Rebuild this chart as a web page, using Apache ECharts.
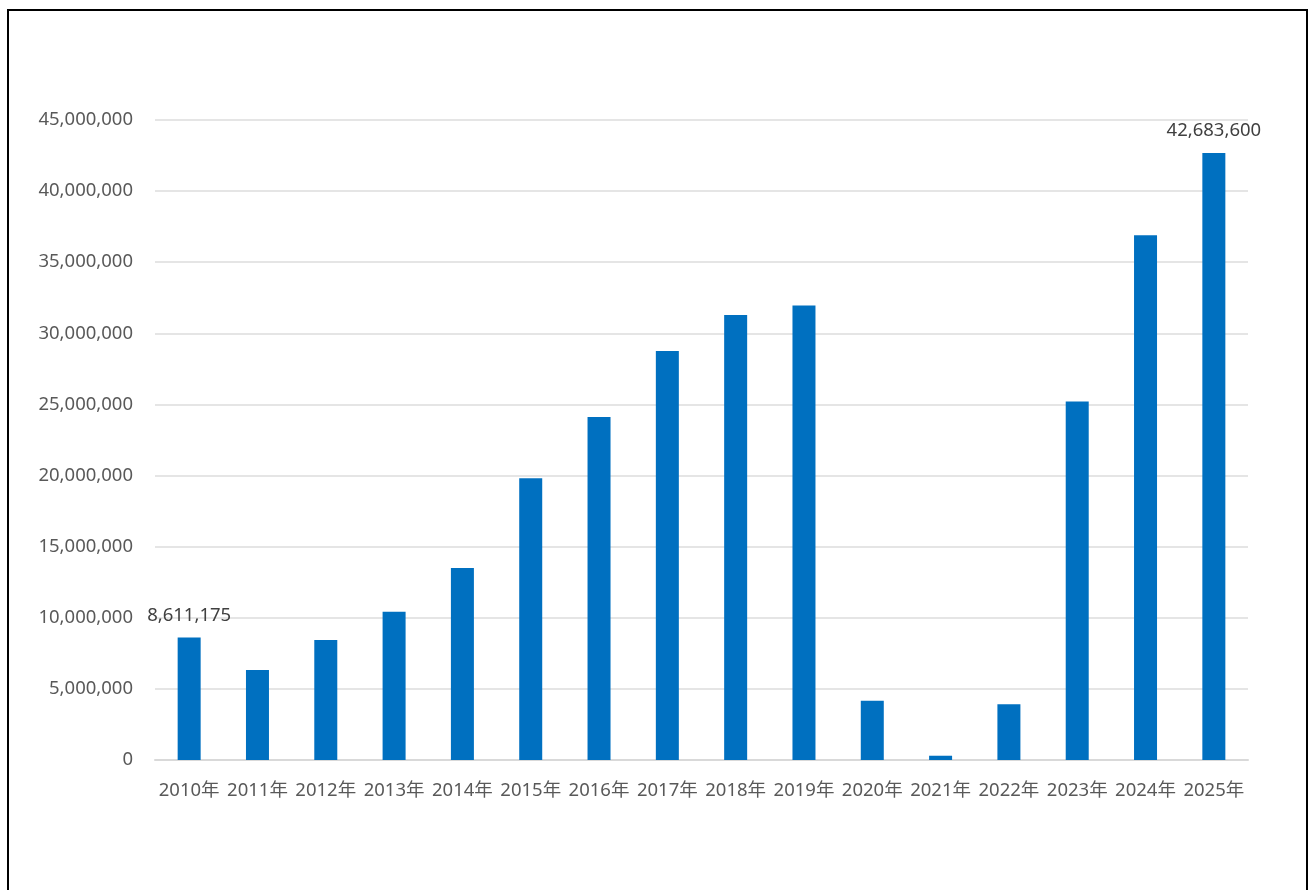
<!DOCTYPE html>
<html>
<head>
<meta charset="utf-8">
<title>2010年–2025年</title>
<script src="https://cdn.jsdelivr.net/npm/echarts@6/dist/echarts.min.js"></script>
<style>
  html, body { margin: 0; padding: 0; background: #ffffff; }
  #chart { width: 1310px; height: 890px; }
</style>
</head>
<body>
<div id="chart"></div>
<script>
// Yearly totals
const years = ['2010年', '2011年', '2012年', '2013年', '2014年', '2015年', '2016年', '2017年',
               '2018年', '2019年', '2020年', '2021年', '2022年', '2023年', '2024年', '2025年'];
const totals = [8611175, 6330000, 8440000, 10430000, 13500000, 19810000, 24120000, 28760000,
                31290000, 31950000, 4170000, 300000, 3920000, 25200000, 36900000, 42683600];
// Years whose value is printed above the bar
const labelledYears = ['2010年', '2025年'];

const yMax = 45000000;
const yStep = 5000000;

const fmt = v => Number(v).toLocaleString('en-US');
const FONT = '"Noto Sans", "Noto Sans CJK JP", sans-serif';
const TEXT = '#595959';
const SIZE = 18.5;

const chart = echarts.init(document.getElementById('chart'), null, { renderer: 'canvas' });

chart.setOption({
  animation: false,
  backgroundColor: '#ffffff',
  textStyle: { fontFamily: FONT },
  graphic: [{
    type: 'rect',
    shape: { x: 8, y: 10, width: 1299, height: 900 },
    style: { fill: 'none', stroke: '#000000', lineWidth: 2 },
    silent: true
  }],
  grid: { left: 155, right: 62, top: 120, bottom: 130, containLabel: false },
  xAxis: {
    type: 'category',
    data: years,
    axisLine: { show: true, lineStyle: { color: '#D9D9D9', width: 2 } },
    axisTick: { show: false },
    axisLabel: { color: TEXT, fontSize: SIZE, fontFamily: FONT, margin: 21, interval: 0 }
  },
  yAxis: {
    type: 'value',
    min: 0,
    max: yMax,
    interval: yStep,
    axisLine: { show: false },
    axisTick: { show: false },
    splitLine: { lineStyle: { color: '#DCDCDC', width: 1.5 } },
    axisLabel: { color: TEXT, fontSize: SIZE, fontFamily: FONT, margin: 22, formatter: fmt }
  },
  series: [{
    type: 'bar',
    data: totals.map((v, i) => ({
      value: v,
      label: {
        show: labelledYears.includes(years[i]),
        position: 'top',
        distance: 13,
        color: '#404040',
        fontSize: SIZE,
        fontFamily: FONT,
        formatter: p => fmt(p.value)
      }
    })),
    barWidth: 23,
    itemStyle: { color: '#0070C0' }
  }]
});
</script>
</body>
</html>
